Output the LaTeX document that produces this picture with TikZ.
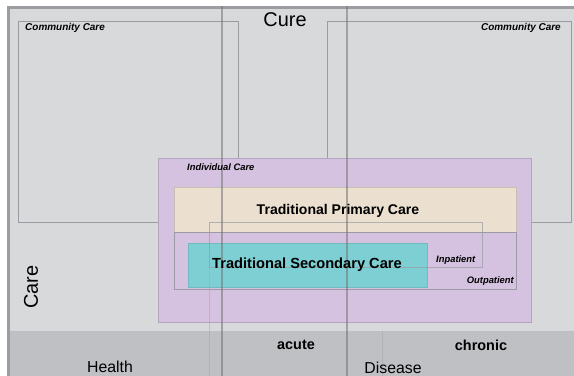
\documentclass[tikz,border=0pt]{standalone}
\usepackage{fontspec}
\setmainfont{Liberation Sans}
\usetikzlibrary{positioning}
\definecolor{rim}{HTML}{9C9DA1}
\definecolor{pale}{HTML}{D8D9DB}
\definecolor{band}{HTML}{BEC0C3}
\definecolor{edge}{HTML}{9A9BA3}
\definecolor{lilac}{HTML}{D4C2E0}
\definecolor{sand}{HTML}{EBDFD0}
\definecolor{teal}{HTML}{7DCFD3}

\begin{document}
\begin{tikzpicture}[
    x=0.03cm, y=-0.03cm,
    every node/.style={inner sep=0pt, text=black},
    axis/.style={font=\fontsize{17}{17}\selectfont},
    cell/.style={font=\fontsize{13.5}{13.5}\selectfont},
    cellb/.style={font=\bfseries\fontsize{12.3}{12.3}\selectfont},
    main/.style={font=\bfseries\fontsize{12}{12}\selectfont},
    tiny/.style={font=\bfseries\itshape\fontsize{8}{8}\selectfont},
    outline/.style={draw=edge, line width=0.4pt},
    divider/.style={draw=black!55, opacity=0.55, line width=1.6pt},
    faint/.style={draw=black!35, opacity=0.5, line width=0.5pt},
]
\useasboundingbox (0,0) rectangle (574,376);
\fill[white] (0,0) rectangle (574,376);

% ================================================================ ground
\fill[rim] (7,6) rectangle (574,376);
\fill[pale] (10,9) rectangle (574,376);
\fill[band] (10,331) rectangle (574,376);

% ================================================================ community care
\draw[outline] (18,21) rectangle (238,222);
\draw[outline] (327,21) rectangle (571,222);

% ================================================================ individual care
\draw[fill=lilac, draw=lilac!85!black, line width=0.4pt] (158,158) rectangle (531,322);
\draw[fill=sand, draw=sand!85!black, line width=0.4pt] (174,187) rectangle (516,232);
\draw[outline] (174,232) rectangle (516,289);
\draw[fill=teal, draw=teal!90!black, line width=0.4pt] (188,243) rectangle (427,287);
\draw[outline, draw opacity=0.7] (209,222) rectangle (482,267);

% the two column rules
\foreach \x in {222, 347}{
    \draw[divider] (\x,6) -- (\x,376);
}
\draw[faint] (209,267) -- (209,376);
\draw[faint] (382,331) -- (382,376);

% ================================================================ labels
\node[axis] (cure) at (285,20) {Cure};
\node[axis, rotate=90] (care) at (31,287) {Care};

\node[tiny, font=\bfseries\itshape\fontsize{8.5}{8.5}\selectfont, anchor=west] (commL) at (25,28) {Community Care};
\node[tiny, font=\bfseries\itshape\fontsize{8.5}{8.5}\selectfont, anchor=east] (commR) at (561,28) {Community Care};
\node[tiny, anchor=west] (indiv) at (187,167) {Individual Care};

\node[main] (primary) at (338,211) {Traditional Primary Care};
\node[main, font=\bfseries\fontsize{12.5}{12.5}\selectfont] (secondary) at (307,265) {Traditional Secondary Care};
\node[tiny, anchor=west] (inpat) at (436,260) {Inpatient};
\node[tiny, anchor=east] (outpat) at (514,281) {Outpatient};

\node[cellb] (acute) at (296,345) {acute};
\node[cellb] (chronic) at (481,345) {chronic};
\node[cell] (health) at (110,367) {Health};
\node[cell] (disease) at (393,368) {Disease};

\end{tikzpicture}
\end{document}
